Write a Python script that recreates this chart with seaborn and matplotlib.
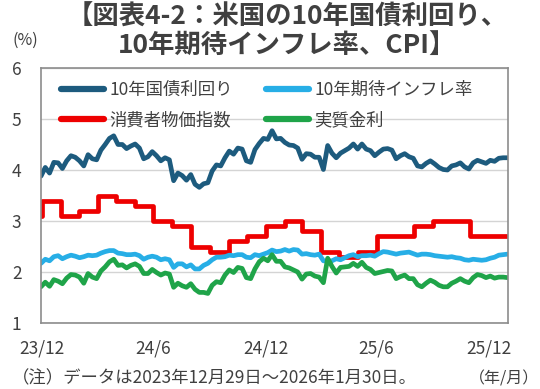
import matplotlib
matplotlib.use("Agg")
import matplotlib.pyplot as plt
import seaborn as sns
import pandas as pd

# ---------------- data ----------------
start_date = "2023-12-29"
end_date = "2026-01-30"

# weekly (Friday) values, 2023-12-29 .. 2026-01-30
yield_10y = [
    3.88,
    4.05, 3.94, 4.15, 4.14,
    4.03, 4.18, 4.28, 4.25,
    4.18, 4.08, 4.30, 4.22, 4.20,
    4.39, 4.50, 4.62, 4.67,
    4.50, 4.50, 4.42, 4.47, 4.51,
    4.43, 4.22, 4.26, 4.36,
    4.28, 4.18, 4.24, 4.20,
    3.79, 3.94, 3.89, 3.80, 3.91,
    3.72, 3.66, 3.73, 3.75,
    3.98, 4.10, 4.08, 4.24,
    4.37, 4.31, 4.43, 4.41, 4.18,
    4.15, 4.40, 4.52, 4.62,
    4.60, 4.77, 4.61, 4.62, 4.54,
    4.49, 4.48, 4.43, 4.21,
    4.32, 4.31, 4.25, 4.25,
    4.01, 4.48, 4.33, 4.24,
    4.33, 4.38, 4.43, 4.51, 4.41,
    4.51, 4.41, 4.38, 4.28,
    4.35, 4.41, 4.42, 4.39,
    4.22, 4.28, 4.32, 4.26, 4.23,
    4.08, 4.06, 4.13, 4.18,
    4.12, 4.05, 4.01, 4.00, 4.08,
    4.10, 4.14, 4.06, 4.02,
    4.14, 4.19, 4.16, 4.13,
    4.19, 4.17, 4.23, 4.24, 4.24,
]

breakeven_10y = [
    2.17,
    2.25, 2.22, 2.30, 2.32,
    2.26, 2.30, 2.33, 2.31,
    2.28, 2.30, 2.33, 2.32, 2.33,
    2.37, 2.40, 2.42, 2.42,
    2.37, 2.36, 2.34, 2.34, 2.35,
    2.32, 2.25, 2.29, 2.31,
    2.29, 2.24, 2.26, 2.24,
    2.09, 2.16, 2.16, 2.10, 2.14,
    2.06, 2.06, 2.13, 2.17,
    2.24, 2.29, 2.29, 2.30,
    2.33, 2.32, 2.34, 2.34, 2.29,
    2.28, 2.34, 2.32, 2.35,
    2.38, 2.43, 2.40, 2.41, 2.44,
    2.41, 2.44, 2.43, 2.35,
    2.36, 2.34, 2.33, 2.35,
    2.22, 2.21, 2.22, 2.26,
    2.24, 2.28, 2.32, 2.34, 2.30,
    2.32, 2.32, 2.33, 2.31,
    2.36, 2.40, 2.39, 2.37,
    2.35, 2.37, 2.38, 2.39, 2.36,
    2.33, 2.35, 2.35, 2.34,
    2.32, 2.31, 2.30, 2.29, 2.30,
    2.28, 2.27, 2.24, 2.23,
    2.25, 2.24, 2.23, 2.24,
    2.27, 2.29, 2.33, 2.34, 2.35,
]

real_rate = [
    1.71,
    1.80, 1.72, 1.85, 1.82,
    1.77, 1.88, 1.95, 1.94,
    1.90, 1.78, 1.97, 1.90, 1.87,
    2.02, 2.10, 2.20, 2.25,
    2.13, 2.14, 2.08, 2.13, 2.16,
    2.11, 1.97, 1.97, 2.05,
    1.99, 1.94, 1.98, 1.96,
    1.70, 1.78, 1.73, 1.70, 1.77,
    1.66, 1.60, 1.60, 1.58,
    1.74, 1.81, 1.79, 1.94,
    2.04, 1.99, 2.09, 2.07, 1.89,
    1.87, 2.06, 2.20, 2.27,
    2.22, 2.34, 2.21, 2.21, 2.10,
    2.08, 2.04, 2.00, 1.86,
    1.96, 1.97, 1.92, 1.90,
    1.79, 2.27, 2.11, 1.98,
    2.09, 2.10, 2.11, 2.17, 2.11,
    2.19, 2.09, 2.05, 1.97,
    1.99, 2.01, 2.03, 2.02,
    1.87, 1.91, 1.94, 1.87, 1.87,
    1.75, 1.71, 1.78, 1.84,
    1.80, 1.74, 1.71, 1.71, 1.78,
    1.82, 1.87, 1.82, 1.79,
    1.89, 1.95, 1.93, 1.89,
    1.92, 1.88, 1.90, 1.90, 1.89,
]

# CPI y/y (%), monthly step
cpi_dates = [
    "2023-12-29", "2023-12-31", "2024-01-31", "2024-02-29", "2024-03-31",
    "2024-04-30", "2024-05-31", "2024-06-30", "2024-07-31", "2024-08-31",
    "2024-09-30", "2024-10-31", "2024-11-30", "2024-12-31", "2025-01-31",
    "2025-02-28", "2025-03-31", "2025-04-30", "2025-05-31", "2025-06-30",
    "2025-07-31", "2025-08-31", "2025-09-30", "2025-11-30", "2025-12-31",
    "2026-01-30",
]
cpi_values = [
    3.1, 3.4, 3.1, 3.2, 3.5,
    3.4, 3.3, 3.0, 2.9, 2.5,
    2.4, 2.6, 2.7, 2.9, 3.0,
    2.8, 2.4, 2.3, 2.4, 2.7,
    2.7, 2.9, 3.0, 2.7, 2.7,
    2.7,
]

tick_dates = ["2023-12-31", "2024-06-30", "2024-12-31", "2025-06-30", "2025-12-31"]
tick_labels = ["23/12", "24/6", "24/12", "25/6", "25/12"]
y_ticks = [1, 2, 3, 4, 5, 6]

label_yield = "10年国債利回り"
label_be = "10年期待インフレ率"
label_cpi = "消費者物価指数"
label_real = "実質金利"

title = "【図表4-2：米国の10年国債利回り、\n10年期待インフレ率、CPI】"
note = "（注）データは2023年12月29日～2026年1月30日。"

# ---------------- styling ----------------
C_NAVY = "#1d5b7e"
C_LBLUE = "#27aee6"
C_RED = "#ee0000"
C_GREEN = "#1fa449"
TXT = "#404040"

sns.set_theme(style="white")
plt.rcParams["font.family"] = ["Noto Sans CJK JP", "DejaVu Sans"]

weeks = pd.date_range(start_date, end_date, freq="W-FRI")
df = pd.DataFrame({"date": weeks, "y10": yield_10y, "be": breakeven_10y, "real": real_rate})
cpi_df = pd.DataFrame({"date": pd.to_datetime(cpi_dates), "cpi": cpi_values})

fig = plt.figure(figsize=(5.4, 3.89), dpi=100)
ax = fig.add_axes([41 / 540, 1 - 323 / 389, 467 / 540, 255 / 389])

lw = 3.4
sns.lineplot(data=cpi_df, x="date", y="cpi", ax=ax, color=C_RED, lw=lw,
             drawstyle="steps-post", label=label_cpi, errorbar=None, sort=False)
sns.lineplot(data=df, x="date", y="y10", ax=ax, color=C_NAVY, lw=lw,
             label=label_yield, errorbar=None)
sns.lineplot(data=df, x="date", y="be", ax=ax, color=C_LBLUE, lw=lw,
             label=label_be, errorbar=None)
sns.lineplot(data=df, x="date", y="real", ax=ax, color=C_GREEN, lw=lw,
             label=label_real, errorbar=None)

ax.set_xlim(pd.Timestamp(start_date), pd.Timestamp(end_date) + pd.Timedelta(days=1))
ax.set_ylim(1, 6)
ax.set_yticks(y_ticks)
ax.set_xticks(pd.to_datetime(tick_dates))
ax.set_xticklabels(tick_labels)
ax.set_xlabel("")
ax.set_ylabel("")

ax.yaxis.grid(True, color="#d4d4d4", lw=1)
ax.xaxis.grid(False)
ax.set_axisbelow(True)
for s in ax.spines.values():
    s.set_visible(True)
    s.set_color("#8c8c8c")
    s.set_linewidth(1.2)

ax.tick_params(axis="x", direction="in", length=5, width=1, color="#8c8c8c",
               pad=12, labelsize=12.5, labelcolor=TXT)
ax.tick_params(axis="y", length=0, pad=14, labelsize=12.5, labelcolor=TXT)

handles, labels = ax.get_legend_handles_labels()
hmap = dict(zip(labels, handles))
order = [label_yield, label_cpi, label_be, label_real]
leg = ax.legend([hmap[k] for k in order], order, ncol=2, loc="upper left",
                bbox_to_anchor=(0.02, 0.99), frameon=False, fontsize=12.5,
                handlelength=2.5, handletextpad=0.3, columnspacing=1.9,
                labelspacing=0.7, borderaxespad=0.2)
for line in leg.get_lines():
    line.set_linewidth(4.5)
    line.set_solid_capstyle("round")
for t in leg.get_texts():
    t.set_color(TXT)

fig.text(0.532, 0.99, title, ha="center", va="top", fontsize=19,
         fontweight="bold", color=TXT, linespacing=1.07)
fig.text(12 / 540, 1 - 40 / 389, "(%)", ha="left", va="center", fontsize=11.5, color=TXT)
fig.text(12 / 540, 1 - 378 / 389, note, ha="left", va="center", fontsize=12.5, color=TXT)
fig.text(539 / 540, 1 - 379 / 389, "（年/月）", ha="right", va="center", fontsize=11.5, color=TXT)

fig.savefig("out.png", dpi=100)
